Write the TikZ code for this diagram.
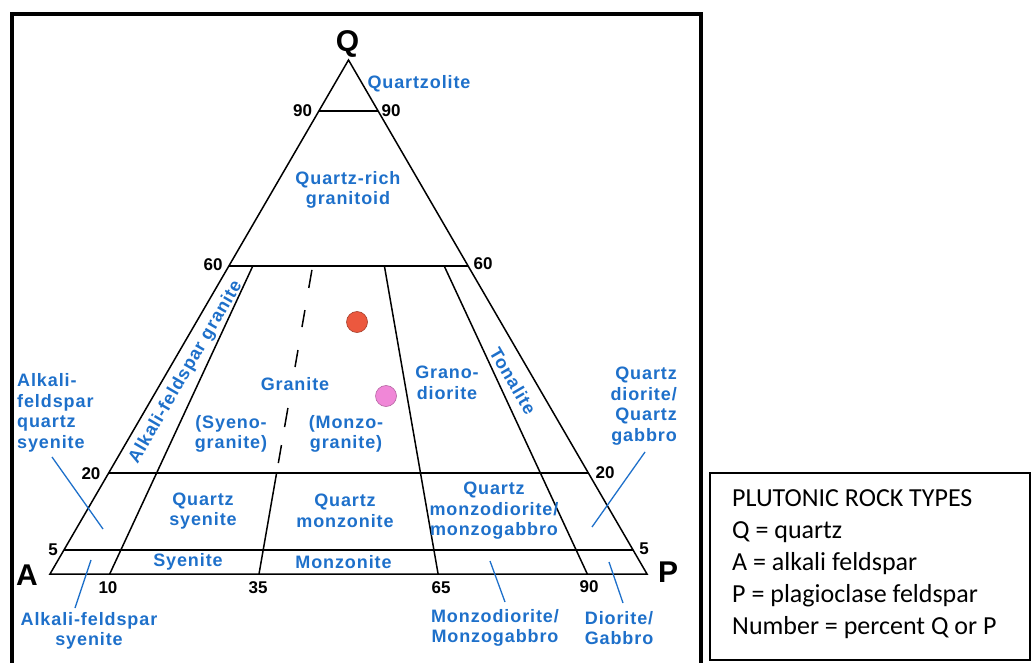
\documentclass[tikz,border=0pt]{standalone}
\usepackage{fontspec}
\setmainfont{Liberation Sans}
\newfontfamily\rockfont[LetterSpace=5]{Liberation Sans}
\newfontfamily\legendfont{Carlito}
\usetikzlibrary{calc}
\definecolor{rockblue}{RGB}{30,112,202}
\definecolor{dotred}{RGB}{236,88,62}
\definecolor{dotpink}{RGB}{240,135,215}
\tikzset{
  rock/.style={text=rockblue,font=\rockfont\bfseries\fontsize{18}{20.5}\selectfont,align=center,inner sep=0pt},
  pct/.style={font=\bfseries\fontsize{17}{17}\selectfont,inner sep=0pt},
  corner/.style={font=\bfseries\fontsize{30}{30}\selectfont,inner sep=0pt},
  leader/.style={rockblue,line width=1.3pt},
  field/.style={line width=1.5pt}
}
\begin{document}
\begin{tikzpicture}[x=1pt,y=-1pt]
\useasboundingbox (0,0) rectangle (1032,663);

\draw[line width=4pt] (12,663) -- (12,14) -- (701,14) -- (701,663);
\draw[line width=1.2pt] (710,473) rectangle (1030,660);

\coordinate (Q) at (348.5,60);
\coordinate (A) at (50,574);
\coordinate (P) at (647,574);
\draw[field] (Q) -- (A) -- (P) -- cycle;

\draw[field] (318.9,111) -- (378.1,111);
\draw[field] (228.9,266) -- (468.1,266);
\draw[field] (108.7,473) -- (588.3,473);
\draw[field] (63.9,550) -- (633.1,550);

\draw[field] (109.7,574) -- (252.8,266);
\draw[field] (259.0,574) -- (276.6,473);
\draw[field] (438.1,574) -- (384.4,266);
\draw[field] (587.3,574) -- (444.2,266);

\coordinate (dtop) at (312.6,266);
\coordinate (dbot) at (276.6,473);
\foreach \a/\b in {0.019/0.106,0.213/0.295,0.406/0.488,0.686/0.778,0.865/0.952}
  \draw[field] ($(dtop)!\a!(dbot)$) -- ($(dtop)!\b!(dbot)$);

\node[corner] (labQ) at (347.5,44) {Q};
\node[corner] (labA) at (27,575) {A};
\node[corner] (labP) at (668,572) {P};

\node[pct] (l90) at (302.5,111) {90};
\node[pct] (r90) at (391,111) {90};
\node[pct] (l60) at (213,265) {60};
\node[pct] (r60) at (483,264) {60};
\node[pct] (l20) at (91,474) {20};
\node[pct] (r20) at (605,473) {20};
\node[pct] (l5) at (53,550) {5};
\node[pct] (r5) at (644,549) {5};
\node[pct] (b10) at (108,588) {10};
\node[pct] (b35) at (258,588) {35};
\node[pct] (b65) at (441,588) {65};
\node[pct] (b90) at (589,587) {90};

\node[rock] (quartzolite) at (419,84) {Quartzolite};
\node[rock] (qrich) at (348,190) {Quartz-rich\\granitoid};
\node[rock, rotate=59.8] (afgranite) at (186,372) {Alkali-feldspar granite};
\node[rock] (granite) at (295,384) {Granite};
\node[rock] (syeno) at (231,434) {(Syeno-\\granite)};
\node[rock] (monzo) at (346,434) {(Monzo-\\granite)};
\node[rock] (grano) at (447,383) {Grano-\\diorite};
\node[rock, rotate=-59.8] (tonalite) at (513,381) {Tonalite};
\node[rock] (qsyenite) at (203,511) {Quartz\\syenite};
\node[rock] (qmonzonite) at (345,511) {Quartz\\monzonite};
\node[rock] (qmonzodio) at (494,511) {Quartz\\monzodiorite/\\monzogabbro};
\node[rock] (syenite) at (188,562) {Syenite};
\node[rock] (monzonite) at (343.5,562) {Monzonite};

\node[rock, align=left, anchor=west] (afqsyenite) at (17,413) {Alkali-\\feldspar\\quartz\\syenite};
\node[rock] (afsyenite) at (89,631) {Alkali-feldspar\\syenite};
\node[rock] (monzodio) at (495,628) {Monzodiorite/\\Monzogabbro};
\node[rock] (diorite) at (619,628) {Diorite/\\Gabbro};
\node[rock, align=right, anchor=east] (qdiorite) at (677,406) {Quartz\\diorite/\\Quartz\\gabbro};

\coordinate (afqs1) at (52,457);
\coordinate (afqs2) at (103,529);
\coordinate (afs1) at (91,560);
\coordinate (afs2) at (75,608);
\coordinate (mzd1) at (490,561);
\coordinate (mzd2) at (505,602);
\coordinate (dio1) at (609,562);
\coordinate (dio2) at (623,603);
\coordinate (qdio1) at (645,452);
\coordinate (qdio2) at (592,527);
\draw[leader] (afqs1) -- (afqs2);
\draw[leader] (afs1) -- (afs2);
\draw[leader] (mzd1) -- (mzd2);
\draw[leader] (dio1) -- (dio2);
\draw[leader] (qdio1) -- (qdio2);

\filldraw[fill=dotred, draw=dotred!70!black, line width=0.6pt] (357,322) circle (10.5);
\filldraw[fill=dotpink, draw=dotpink!75!black, line width=0.6pt] (386,396) circle (10.5);

\node[font=\legendfont\fontsize{26}{32}\selectfont, align=left, anchor=west, inner sep=0pt] (legend) at (732,564)
  {PLUTONIC ROCK TYPES\\Q = quartz\\A = alkali feldspar\\P = plagioclase feldspar\\Number = percent Q or P};
\end{tikzpicture}
\end{document}
